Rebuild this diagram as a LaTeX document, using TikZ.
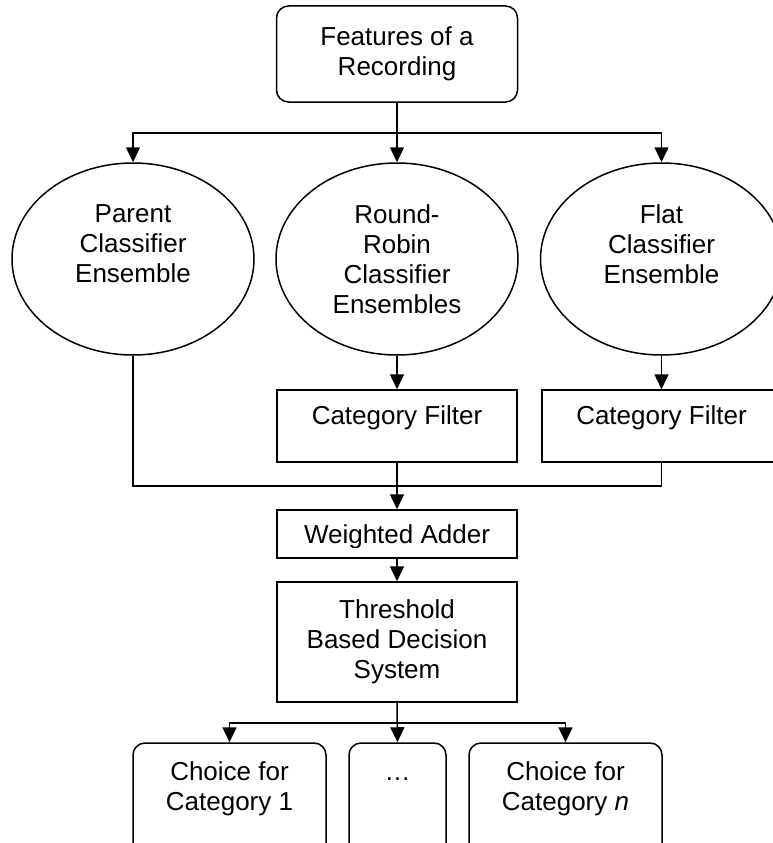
\documentclass[tikz,border=0pt]{standalone}
\usepackage{fontspec}
\setmainfont{Liberation Sans}
\usetikzlibrary{arrows.meta,shapes.geometric}
\begin{document}
\begin{tikzpicture}[x=1pt,y=-1pt,
  every node/.style={font=\fontsize{26}{30}\selectfont, line width=1.5pt},
  lbl/.style={align=center, inner sep=0pt},
  ell/.style={draw, ellipse, minimum width=242pt, minimum height=192pt, inner sep=0pt, align=center},
  box/.style={draw, rectangle, inner sep=0pt, minimum width=240pt},
  rbox/.style={draw, rectangle, rounded corners=12pt, inner sep=0pt, align=center},
  wire/.style={line width=1.5pt},
  arr/.style={wire, -{Triangle[length=15pt,width=14pt]}}]

\useasboundingbox (0,0) rectangle (773,843);
\clip (0,0) rectangle (773,843);

% input
\node[rbox, minimum width=241pt, minimum height=96pt] (feat) at (397,54) {Features of a\\Recording};

% classifier ensembles
\node[ell] (par)  at (133,259)   {Parent\\Classifier\\Ensemble\\\mbox{}};
\node[ell] (rr)   at (397,259)   {Round-\\Robin\\Classifier\\Ensembles};
\node[ell] (flat) at (661.5,259) {Flat\\Classifier\\Ensemble\\\mbox{}};

% filters
\node[box, minimum height=72pt, text depth=21pt] (cf1) at (397,426) {Category Filter};
\node[box, minimum width=239pt, minimum height=72pt, text depth=21pt] (cf2) at (661.5,426) {Category Filter};

% adder, with its label cut off just below the baseline
\node[box, minimum height=48pt] (wa) at (397,534) {};
\begin{scope}
  \clip (wa.north west) rectangle ([yshift=11pt]wa.south east);
  \node[lbl, text depth=0pt] (walbl) at (wa.center) {Weighted Adder};
\end{scope}

% decision
\node[box, minimum height=120pt, align=center] (thr) at (397,642) {Threshold\\Based Decision\\System};

% outputs
\node[rbox, minimum width=193pt, minimum height=117pt] (c1)    at (229.5,801.5) {Choice for\\Category 1\\\mbox{}};
\node[rbox, minimum width=97pt,  minimum height=117pt] (cdots) at (397.5,801.5) {\vphantom{C}…\\\mbox{}\\\mbox{}};
\node[rbox, minimum width=193pt, minimum height=117pt] (cn)    at (565.5,801.5) {Choice for\\Category \textit{n}\\\mbox{}};

% connectors
\coordinate (s1) at (397,133);
\draw[arr] (feat.south) -- (rr.north);
\draw[arr] (s1) -| (par.north);
\draw[arr] (s1) -| (flat.north);

\draw[arr] (rr.south) -- (cf1.north);
\draw[arr] (flat.south) -- (cf2.north);

\coordinate (j) at (397,486);
\draw[wire] (par.south) |- (j) -| (cf2.south);
\draw[arr] (cf1.south) -- (wa.north);
\draw[arr] (wa.south) -- (thr.north);

\coordinate (k) at (397,723);
\draw[arr] (thr.south) -- (cdots.north);
\draw[arr] (k) -| (c1.north);
\draw[arr] (k) -| (cn.north);
\end{tikzpicture}
\end{document}
